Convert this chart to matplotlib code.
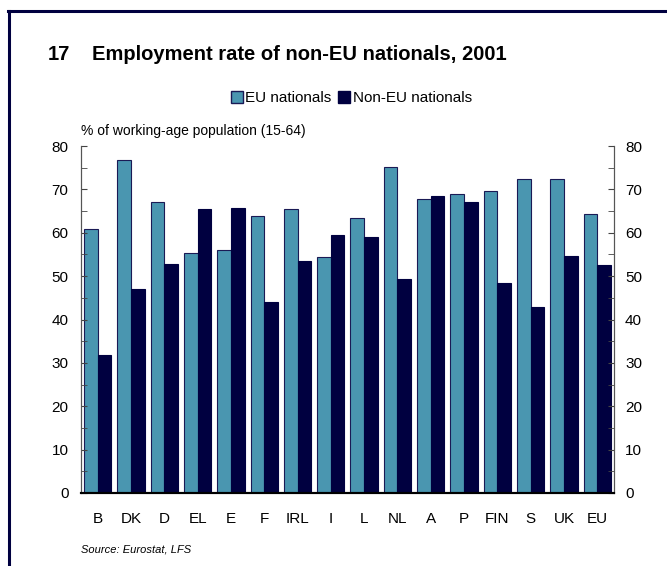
import numpy as np
import matplotlib.pyplot as plt
from matplotlib.lines import Line2D
from matplotlib.ticker import MultipleLocator

plt.rcParams["font.family"] = ["Liberation Sans", "DejaVu Sans"]

countries = ["B", "DK", "D", "EL", "E", "F", "IRL", "I", "L", "NL", "A", "P", "FIN", "S", "UK", "EU"]
eu_nationals = [60.8, 76.8, 67.0, 55.4, 56.1, 63.8, 65.4, 54.5, 63.3, 75.1, 67.9, 69.0, 69.6, 72.3, 72.3, 64.4]
non_eu_nationals = [31.8, 47.1, 52.9, 65.4, 65.6, 44.1, 53.6, 59.6, 59.1, 49.4, 68.4, 67.2, 48.5, 42.8, 54.7, 52.5]

EU_COLOR = "#4a96b0"
NON_EU_COLOR = "#000040"

fig = plt.figure(figsize=(6.67, 5.66), dpi=100)
ax = fig.add_axes([0.1214, 0.129, 0.7991, 0.613])

x = np.arange(len(countries))
w = 0.41
ax.bar(x - w / 2, eu_nationals, w, color=EU_COLOR, edgecolor="#1a1a55", linewidth=0.8, label="EU nationals")
ax.bar(x + w / 2, non_eu_nationals, w, color=NON_EU_COLOR, edgecolor=NON_EU_COLOR, linewidth=0.8, label="Non-EU nationals")

ax.set_xlim(-0.5, len(countries) - 0.5)
ax.set_ylim(0, 80)
ax.set_xticks(x)
ax.set_xticklabels(countries, fontsize=11)
ax.tick_params(axis="x", length=0, pad=14)
ax.yaxis.set_major_locator(MultipleLocator(10))
ax.yaxis.set_minor_locator(MultipleLocator(5))
ax.tick_params(axis="y", which="both", direction="in", length=4, color="#444444", labelsize=11, pad=9)

ax2 = ax.twinx()
ax2.set_ylim(ax.get_ylim())
ax2.yaxis.set_major_locator(MultipleLocator(10))
ax2.yaxis.set_minor_locator(MultipleLocator(5))
ax2.tick_params(axis="y", which="both", direction="in", length=4, color="#444444", labelsize=11, pad=8)

for a in (ax, ax2):
    a.spines["top"].set_visible(False)
    a.spines["left"].set_color("#555555")
    a.spines["right"].set_color("#555555")
    a.spines["bottom"].set_color("black")
    a.spines["bottom"].set_linewidth(1.5)

fig.text(0.072, 0.903, "17", fontsize=14.5, fontweight="bold", va="center")
fig.text(0.138, 0.903, "Employment rate of non-EU nationals, 2001", fontsize=14.5, fontweight="bold", va="center")
fig.text(0.1214, 0.768, "% of working-age population (15-64)", fontsize=10, va="center")
fig.text(0.1214, 0.029, "Source: Eurostat, LFS", fontsize=8, style="italic", va="center")

handles = [
    Line2D([], [], marker="s", linestyle="none", markersize=9, markerfacecolor=EU_COLOR, markeredgecolor="#1a1a55"),
    Line2D([], [], marker="s", linestyle="none", markersize=9, markerfacecolor=NON_EU_COLOR, markeredgecolor=NON_EU_COLOR),
]
fig.legend(handles, ["EU nationals", "Non-EU nationals"], loc="center", bbox_to_anchor=(0.525, 0.826),
           ncol=2, frameon=False, fontsize=11, handletextpad=0.0, columnspacing=0.3, handlelength=1.1)

# frame lines along the top and left edge
fig.add_artist(Line2D([8 / 667, 1], [1 - 11 / 566, 1 - 11 / 566], color="#000040", linewidth=2.2))
fig.add_artist(Line2D([9 / 667, 9 / 667], [0, 1 - 11 / 566], color="#000040", linewidth=2.2))

fig.savefig("out.png", dpi=100)
